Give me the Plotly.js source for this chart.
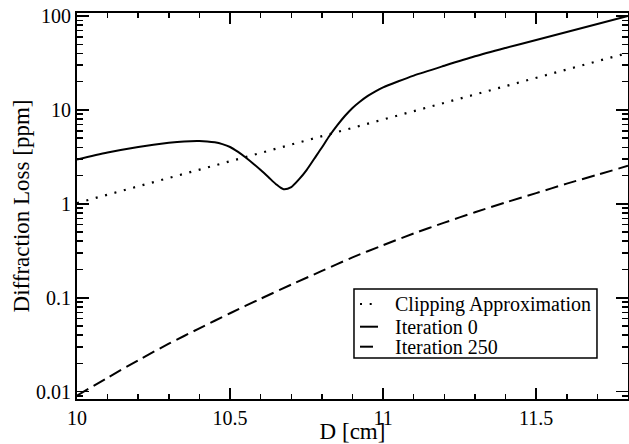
<!DOCTYPE html>
<html>
<head>
<meta charset="utf-8">
<script src="https://cdn.plot.ly/plotly-3.0.1.min.js"></script>
<style>html,body{margin:0;padding:0;background:#fff;}#chart{width:629px;height:444px;}</style>
</head>
<body>
<div id="chart"></div>
<script>
// Clipping Approximation (dotted)
const clipX = [10.0,10.1,10.2,10.3,10.4,10.5,10.6,10.7,10.8,10.9,11.0,11.1,11.2,11.3,11.4,11.5,11.6,11.7,11.8];
const clipY = [1.02,1.25,1.54,1.89,2.31,2.84,3.48,4.27,5.24,6.43,7.9,9.7,11.9,14.6,17.9,21.9,26.9,33.0,40.5];

// Iteration 0 (solid)
const it0X = [10.0,10.1,10.2,10.3,10.35,10.4,10.425,10.45,10.475,10.5,10.525,10.55,10.575,10.6,10.625,10.65,10.675,10.7,10.725,10.75,10.775,10.8,10.825,10.85,10.875,10.9,10.925,10.95,10.975,11.0,11.05,11.1,11.2,11.3,11.4,11.5,11.6,11.7,11.8];
const it0Y = [2.96,3.52,4.04,4.47,4.62,4.66,4.62,4.52,4.32,4.03,3.59,3.13,2.69,2.29,1.93,1.62,1.43,1.51,1.82,2.29,3.02,3.98,5.31,6.84,8.61,10.5,12.3,14.1,15.8,17.4,20.2,23.2,29.5,37.2,45.7,55.6,67.6,82.2,100];

// Iteration 250 (dashed)
const it250X = [10.0,10.1,10.2,10.3,10.4,10.5,10.6,10.7,10.8,10.9,11.0,11.1,11.2,11.3,11.4,11.5,11.6,11.7,11.8];
const it250Y = [0.0091,0.0141,0.0216,0.0324,0.0473,0.0684,0.0977,0.138,0.193,0.269,0.363,0.484,0.631,0.813,1.035,1.30,1.64,2.04,2.54];

const seriesNames = ['Clipping Approximation', 'Iteration 0', 'Iteration 250'];
const seriesDash = ['2px,7.7px', 'solid', '13px,6px'];

const yTickVals = [0.01,0.1,1,10,100];
const yTickText = ['0.01','0.1','1','10','100'];
const xTickVals = [10,10.5,11,11.5];
const xTickText = ['10','10.5','11','11.5'];

const serif = 'Liberation Serif, Times New Roman, serif';

const traces = [
  {x: clipX, y: clipY, mode: 'lines', name: seriesNames[0],
   line: {color: '#000', width: 2.2, dash: seriesDash[0]}},
  {x: it0X, y: it0Y, mode: 'lines', name: seriesNames[1],
   line: {color: '#000', width: 2, shape: 'spline', smoothing: 0.8}},
  {x: it250X, y: it250Y, mode: 'lines', name: seriesNames[2],
   line: {color: '#000', width: 2, dash: seriesDash[2], shape: 'spline', smoothing: 0.8}}
];

// Legend box drawn in paper coordinates
const legX0 = 0.5027, legX1 = 0.9437, legY0 = 0.1062, legY1 = 0.285;
const legRowY = [0.2461, 0.1873, 0.1355];
const symX0 = 0.5136, symX1 = 0.5463, txtX = 0.5735;

const shapes = [{type: 'rect', xref: 'paper', yref: 'paper', x0: legX0, x1: legX1, y0: legY0, y1: legY1,
                 line: {color: '#000', width: 1.5}, fillcolor: '#fff', layer: 'above'}];
const annotations = [];
seriesNames.forEach((nm, i) => {
  shapes.push({type: 'line', xref: 'paper', yref: 'paper', x0: symX0, x1: symX1, y0: legRowY[i], y1: legRowY[i],
               line: {color: '#000', width: i === 0 ? 2.2 : 2, dash: seriesDash[i]}, layer: 'above'});
  annotations.push({xref: 'paper', yref: 'paper', x: txtX, y: legRowY[i], xanchor: 'left', yanchor: 'middle',
                    text: nm, showarrow: false, font: {family: serif, size: 20, color: '#000'}});
});

const layout = {
  width: 629, height: 444,
  margin: {l: 77, r: 1, t: 13, b: 45},
  paper_bgcolor: '#fff', plot_bgcolor: '#fff',
  font: {family: serif, size: 20, color: '#000'},
  showlegend: false,
  shapes: shapes,
  annotations: annotations,
  xaxis: {range: [10, 11.8], showgrid: false, zeroline: false,
          showline: true, linecolor: '#000', linewidth: 2, mirror: 'allticks',
          ticks: 'inside', ticklen: 11, tickwidth: 1.5, tickcolor: '#000',
          tickvals: xTickVals, ticktext: xTickText,
          tickfont: {family: serif, size: 20, color: '#000'},
          minor: {dtick: 0.1, ticks: 'inside', ticklen: 5, tickwidth: 1.5, tickcolor: '#000', showgrid: false},
          title: {text: 'D [cm]', font: {family: serif, size: 23, color: '#000'}, standoff: 0}},
  yaxis: {type: 'log', range: [Math.log10(0.00836), Math.log10(107.6)], showgrid: false, zeroline: false,
          showline: true, linecolor: '#000', linewidth: 2, mirror: 'allticks',
          ticks: 'inside', ticklen: 12, tickwidth: 1.5, tickcolor: '#000',
          tickvals: yTickVals, ticktext: yTickText,
          tickfont: {family: serif, size: 20, color: '#000'},
          minor: {dtick: 'D1', ticks: 'inside', ticklen: 6, tickwidth: 1.5, tickcolor: '#000', showgrid: false},
          title: {text: 'Diffraction Loss [ppm]', font: {family: serif, size: 23, color: '#000'}, standoff: 0}}
};

Plotly.newPlot('chart', traces, layout, {displayModeBar: false, staticPlot: true});
</script>
</body>
</html>
